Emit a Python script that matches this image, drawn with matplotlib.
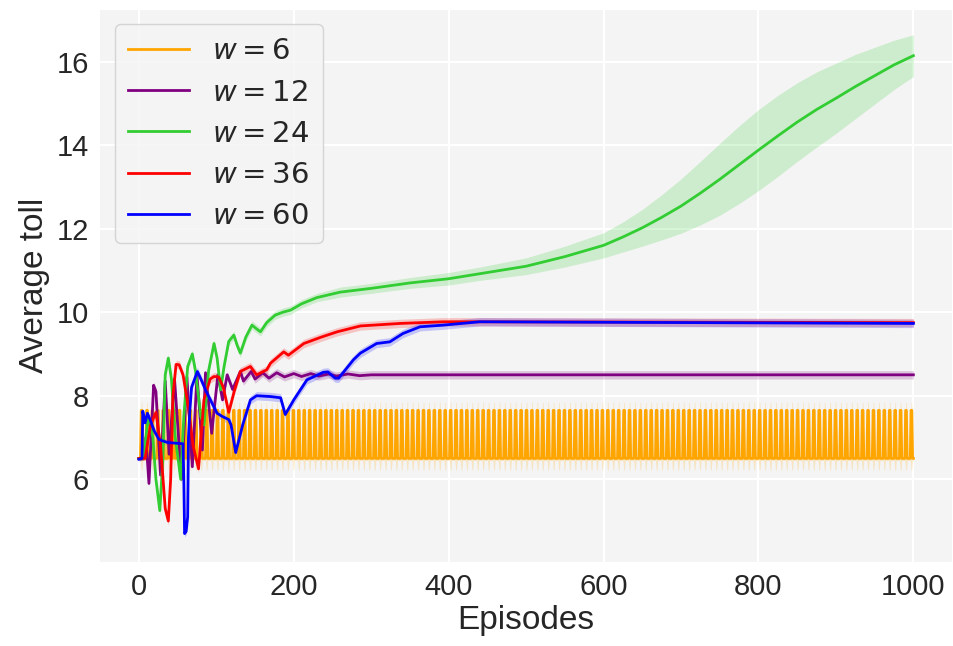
import matplotlib
matplotlib.use("Agg")
import matplotlib.pyplot as plt
import numpy as np

plt.rcParams['font.family'] = ['Liberation Sans', 'DejaVu Sans']
plt.rcParams['mathtext.fontset'] = 'dejavusans'

# ---------------- data ----------------
labels = ["$w = 6$", "$w = 12$", "$w = 24$", "$w = 36$", "$w = 60$"]
colors = ["orange", "purple", "limegreen", "red", "blue"]

# w = 6 : low level with short spikes
orange_low = 6.5
orange_high = 7.65
orange_band_low = 6.22
orange_band_high = 7.84
orange_spikes = [3, 10, 17, 24, 31, 38, 45, 52, 59, 66, 73, 80, 87, 94, 101, 108, 115, 122, 129, 136,
                 143, 150, 157, 164, 171, 178, 185, 192, 199, 206, 213, 220, 227, 234, 241, 248, 255,
                 262, 269, 276, 283, 290, 297, 304, 311, 318, 325, 332, 339, 346, 353, 360, 367, 374,
                 381, 388, 395, 402, 409, 416, 423, 430, 437, 444, 451, 458, 465, 472, 479, 486, 493,
                 500, 507, 514, 521, 528, 535, 542, 549, 556, 563, 570, 577, 584, 591, 598, 605, 612,
                 619, 626, 633, 640, 647, 654, 661, 668, 675, 682, 689, 696, 703, 710, 717, 724, 731,
                 738, 745, 752, 759, 766, 773, 780, 787, 794, 801, 808, 815, 822, 829, 836, 843, 850,
                 857, 864, 871, 878, 885, 892, 899, 906, 913, 920, 927, 934, 941, 948, 955, 962, 969,
                 976, 983, 990, 997]

# w = 12
purple_x = [0, 6, 9, 13, 19, 22, 28, 34, 39, 46, 55, 62, 69, 75, 82, 86, 94, 102, 108, 114, 121,
            131, 135, 145, 150, 160, 168, 178, 188, 200, 210, 222, 232, 245, 255, 270, 285, 300, 1000]
purple_y = [6.5, 6.5, 7.0, 5.9, 8.25, 8.1, 6.1, 8.35, 6.6, 8.4, 6.0, 8.45, 6.3, 8.5, 6.7, 8.55, 7.1,
            8.5, 7.9, 8.5, 8.15, 8.58, 8.35, 8.58, 8.4, 8.55, 8.42, 8.55, 8.45, 8.53, 8.46, 8.53, 8.47,
            8.52, 8.47, 8.52, 8.48, 8.5, 8.5]
purple_sd = [0.05, 0.05, 0.08, 0.08, 0.08, 0.08, 0.08, 0.08, 0.08, 0.08, 0.08, 0.08, 0.08, 0.08, 0.08,
             0.08, 0.08, 0.08, 0.08, 0.08, 0.1, 0.1, 0.1, 0.1, 0.1, 0.1, 0.1, 0.1, 0.1, 0.1, 0.1, 0.1,
             0.1, 0.1, 0.1, 0.1, 0.1, 0.1, 0.1]

# w = 24
green_x = [0, 6, 12, 18, 22, 27, 31, 34, 38, 42, 47, 54, 58, 63, 69, 73, 80, 84, 90, 97, 101, 105.5,
           110, 116, 122.6, 127, 131, 138, 146, 152, 157, 165, 176, 186, 196, 210, 230, 260, 300, 350,
           400, 440, 500, 550, 600, 625, 650, 675, 700, 725, 750, 775, 800, 825, 850, 875, 900, 925,
           950, 975, 1000]
green_y = [6.5, 6.5, 7.5, 7.0, 6.0, 5.25, 6.5, 8.5, 8.9, 8.4, 7.0, 6.0, 7.5, 8.7, 9.0, 8.6, 7.5, 7.3,
           8.6, 9.25, 8.9, 8.14, 8.7, 9.3, 9.45, 9.2, 9.02, 9.4, 9.69, 9.6, 9.53, 9.75, 9.93, 10.0,
           10.05, 10.2, 10.35, 10.48, 10.57, 10.7, 10.8, 10.92, 11.1, 11.33, 11.6, 11.8, 12.02, 12.27,
           12.54, 12.85, 13.18, 13.53, 13.88, 14.22, 14.55, 14.85, 15.12, 15.4, 15.66, 15.92, 16.14]
green_sd = [0.05, 0.05, 0.1, 0.1, 0.1, 0.1, 0.1, 0.1, 0.1, 0.1, 0.1, 0.1, 0.1, 0.1, 0.1, 0.1, 0.1, 0.1,
            0.1, 0.1, 0.1, 0.1, 0.1, 0.1, 0.1, 0.1, 0.1, 0.1, 0.1, 0.1, 0.1, 0.1, 0.1, 0.1, 0.1, 0.1,
            0.1, 0.12, 0.12, 0.13, 0.15, 0.16, 0.2, 0.25, 0.3, 0.36, 0.44, 0.54, 0.65, 0.76, 0.86,
            0.93, 0.97, 0.97, 0.94, 0.9, 0.84, 0.77, 0.68, 0.59, 0.5]

# w = 36
red_x = [0, 8, 15, 22, 28, 34, 38, 41, 44, 48, 52, 57, 64, 70, 77, 84, 92, 97, 103, 109, 116, 123,
         131, 144, 152, 165, 170, 187, 193, 213, 235, 256, 286, 337, 393, 440, 1000]
red_y = [6.5, 6.5, 7.3, 7.6, 6.8, 5.3, 5.0, 6.0, 8.0, 8.75, 8.74, 8.5, 7.7, 6.8, 6.25, 7.9, 8.4, 8.46,
         8.45, 8.2, 7.6, 8.1, 8.58, 8.7, 8.5, 8.62, 8.78, 9.05, 8.97, 9.25, 9.4, 9.53, 9.67, 9.73, 9.77,
         9.77, 9.75]
red_sd = [0.05, 0.05, 0.1, 0.1, 0.1, 0.1, 0.1, 0.1, 0.1, 0.1, 0.1, 0.1, 0.1, 0.1, 0.1, 0.1, 0.1, 0.1,
          0.1, 0.1, 0.1, 0.1, 0.1, 0.1, 0.1, 0.1, 0.1, 0.1, 0.1, 0.1, 0.1, 0.1, 0.1, 0.1, 0.1, 0.1,
          0.1]

# w = 60
blue_x = [0, 4, 5, 8, 11, 15, 20, 26, 37, 57, 58, 59, 61, 63, 64, 66, 68, 75.5, 80, 88, 101, 108, 116,
          119, 125, 134, 144, 152, 170, 183, 189, 200, 217, 238, 244, 253.5, 258, 277, 286, 307, 324,
          341, 363, 393, 440, 1000]
blue_y = [6.48, 6.5, 7.63, 7.35, 7.58, 7.4, 7.15, 6.95, 6.88, 6.85, 6.0, 4.7, 4.75, 5.1, 7.0, 7.7,
          8.2, 8.58, 8.4, 8.06, 7.58, 7.5, 7.43, 7.3, 6.64, 7.3, 7.9, 8.0, 7.98, 7.95, 7.55, 7.9, 8.38,
          8.56, 8.57, 8.42, 8.42, 8.86, 9.02, 9.25, 9.29, 9.49, 9.65, 9.69, 9.77, 9.73]
blue_sd = [0.05, 0.05, 0.08, 0.08, 0.08, 0.08, 0.08, 0.08, 0.08, 0.08, 0.08, 0.08, 0.08, 0.08, 0.08,
           0.08, 0.1, 0.1, 0.1, 0.1, 0.1, 0.1, 0.1, 0.1, 0.1, 0.1, 0.1, 0.1, 0.1, 0.1, 0.1, 0.1, 0.1,
           0.1, 0.1, 0.1, 0.1, 0.1, 0.1, 0.1, 0.1, 0.1, 0.1, 0.1, 0.1, 0.1]

x_ticks = [0, 200, 400, 600, 800, 1000]
y_ticks = [6, 8, 10, 12, 14, 16]

# ---------------- build orange series from spike list ----------------
ox, oy, olo, ohi = [0], [orange_low], [orange_low - 0.05], [orange_low + 0.05]
for s in orange_spikes:
    ox += [s - 1, s, s + 1, s + 2]
    oy += [orange_low, orange_high, orange_high, orange_low]
    olo += [orange_low - 0.05, orange_band_low, orange_band_low, orange_low - 0.05]
    ohi += [orange_low + 0.05, orange_band_high, orange_band_high, orange_low + 0.05]
ox.append(1000)
oy.append(orange_low)
olo.append(orange_low - 0.05)
ohi.append(orange_low + 0.05)

# ---------------- plot ----------------
fig = plt.figure(figsize=(9.54, 6.46), dpi=100)
ax = fig.add_subplot(111)
fig.subplots_adjust(left=0.105, right=0.998, top=0.985, bottom=0.13)
ax.set_facecolor("#f4f4f4")
ax.grid(True, color="white", linewidth=1.5)
ax.set_axisbelow(True)
for sp in ax.spines.values():
    sp.set_visible(False)

series = [
    (ox, oy, olo, ohi),
]
for xs, ys, sds in [(purple_x, purple_y, purple_sd), (green_x, green_y, green_sd),
                    (red_x, red_y, red_sd), (blue_x, blue_y, blue_sd)]:
    y = np.array(ys)
    s = np.array(sds)
    series.append((xs, ys, y - s, y + s))

for (xs, ys, lo, hi), c, lab in zip(series, colors, labels):
    ax.fill_between(xs, lo, hi, color=c, alpha=0.2, linewidth=0)
    ax.plot(xs, ys, color=c, linewidth=2, label=lab)

ax.set_xticks(x_ticks)
ax.set_yticks(y_ticks)
ax.tick_params(axis="both", labelsize=21, length=0, pad=8, colors="#262626")
ax.set_xlabel("Episodes", fontsize=24, color="#262626", labelpad=3)
ax.set_ylabel("Average toll", fontsize=24, color="#262626", labelpad=5)

leg = ax.legend(loc="upper left", fontsize=21, frameon=True, facecolor="#f4f4f4",
                edgecolor="#cccccc", handlelength=2.1, labelspacing=0.45, borderpad=0.45,
                handletextpad=0.8)
for t in leg.get_texts():
    t.set_color("#262626")
for l in leg.get_lines():
    l.set_linewidth(2)

fig.savefig("out.png", dpi=100)
